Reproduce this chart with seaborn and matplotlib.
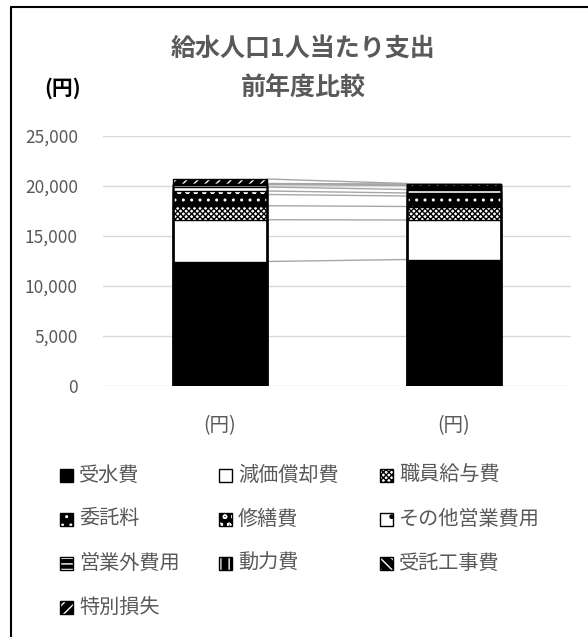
import numpy as np
import pandas as pd
import matplotlib
matplotlib.use("Agg")
import matplotlib.pyplot as plt
import seaborn as sns
from matplotlib.lines import Line2D
from matplotlib.patches import Rectangle
from matplotlib.ticker import FuncFormatter

# --- data -------------------------------------------------------------
years = ["前年度", "当年度"]
tick_labels = ["(円)", "(円)"]
items = ["受水費", "減価償却費", "職員給与費", "委託料", "修繕費",
         "その他営業費用", "営業外費用", "動力費", "受託工事費", "特別損失"]
prev_year = [12450, 4180, 1400, 1120, 350, 400, 250, 100, 0, 450]
this_year = [12650, 3950, 1350, 1050, 300, 350, 400, 150, 50, 0]
y_ticks = [0, 5000, 10000, 15000, 20000, 25000]

# --- styles -----------------------------------------------------------
faces = ["black", "white", "white", "black", "black",
         "white", "black", "black", "black", "black"]
hatches = [None, None, "xxxxxx", "..", "oo", ".", "---", "||", "\\\\\\", "///"]
hatch_colors = ["black" if f == "white" else "white" for f in faces]

sns.set_theme(style="white")
plt.rcParams["font.family"] = ["Noto Sans CJK JP", "DejaVu Sans"]
plt.rcParams["hatch.linewidth"] = 1.0

W, H = 588, 637
fig = plt.figure(figsize=(W / 100, H / 100), dpi=100)


def fx(px):
    return px / W


def fy(py):
    return 1 - py / H


ax = fig.add_axes([fx(103), fy(386), fx(571) - fx(103), fy(136) - fy(386)])

cum_prev = np.cumsum(prev_year)
cum_this = np.cumsum(this_year)

# series lines between the two stacks
for i in range(len(items)):
    ax.plot([0.2, 0.8], [cum_prev[i], cum_this[i]], color="#a6a6a6",
            lw=1, zorder=1.5)

# stacked bars: draw cumulative totals from the top down so each layer
# covers the ones below it
for i in reversed(range(len(items))):
    df = pd.DataFrame({"year": years, "value": [cum_prev[i], cum_this[i]]})
    sns.barplot(data=df, x="year", y="value", order=years, color=faces[i],
                saturation=1, hatch=hatches[i], edgecolor=hatch_colors[i],
                linewidth=0, width=0.4, ax=ax, zorder=2, errorbar=None)

# segment outlines
for i in range(len(items)):
    df = pd.DataFrame({"year": years, "value": [cum_prev[i], cum_this[i]]})
    sns.barplot(data=df, x="year", y="value", order=years, color="black",
                fill=False, linewidth=1, width=0.4, ax=ax, zorder=3,
                errorbar=None)

ax.set_xlim(-0.5, 1.5)
ax.set_ylim(0, 25000)
ax.set_yticks(y_ticks)
ax.yaxis.set_major_formatter(FuncFormatter(lambda v, p: f"{v:,.0f}"))
ax.set_xticks([0, 1])
ax.set_xticklabels(tick_labels)
ax.set_xlabel("")
ax.set_ylabel("")
ax.grid(axis="y", color="#d9d9d9", lw=1, zorder=0)
ax.grid(axis="x", visible=False)
ax.set_axisbelow(True)
for s in ax.spines.values():
    s.set_visible(False)
ax.tick_params(axis="y", length=0, pad=18, labelsize=12.5, labelcolor="#595959")
ax.tick_params(axis="x", length=0, pad=21, labelsize=14, labelcolor="#595959")

# titles
fig.text(fx(303), fy(50), "給水人口1人当たり支出", ha="center", va="center",
         fontsize=18, fontweight="bold", color="#595959")
fig.text(fx(303), fy(89), "前年度比較", ha="center", va="center",
         fontsize=18, fontweight="bold", color="#595959")
fig.text(fx(63), fy(88), "(円)", ha="center", va="center",
         fontsize=15, fontweight="bold", color="black")

# legend
col_x = [60, 219, 380]
row_y = [475, 519, 563, 607]
box = 13
for k, name in enumerate(items):
    r, c = divmod(k, 3)
    x0, yc = col_x[c], row_y[r]
    fig.add_artist(Rectangle((fx(x0), fy(yc + box / 2)), box / W, box / H,
                             transform=fig.transFigure, facecolor=faces[k],
                             edgecolor=hatch_colors[k], hatch=hatches[k], lw=0))
    fig.add_artist(Rectangle((fx(x0), fy(yc + box / 2)), box / W, box / H,
                             transform=fig.transFigure, facecolor="none",
                             edgecolor="black", lw=1))
    fig.text(fx(x0 + 19), fy(yc), name, ha="left", va="center",
             fontsize=14.5, color="#595959")

# outer frame
fig.add_artist(Line2D([fx(11), 1], [fy(7), fy(7)], color="black", lw=1.5,
                      transform=fig.transFigure))
fig.add_artist(Line2D([fx(11), fx(11)], [fy(7), 0], color="black", lw=1.5,
                      transform=fig.transFigure))

fig.savefig("out.png", dpi=100)
